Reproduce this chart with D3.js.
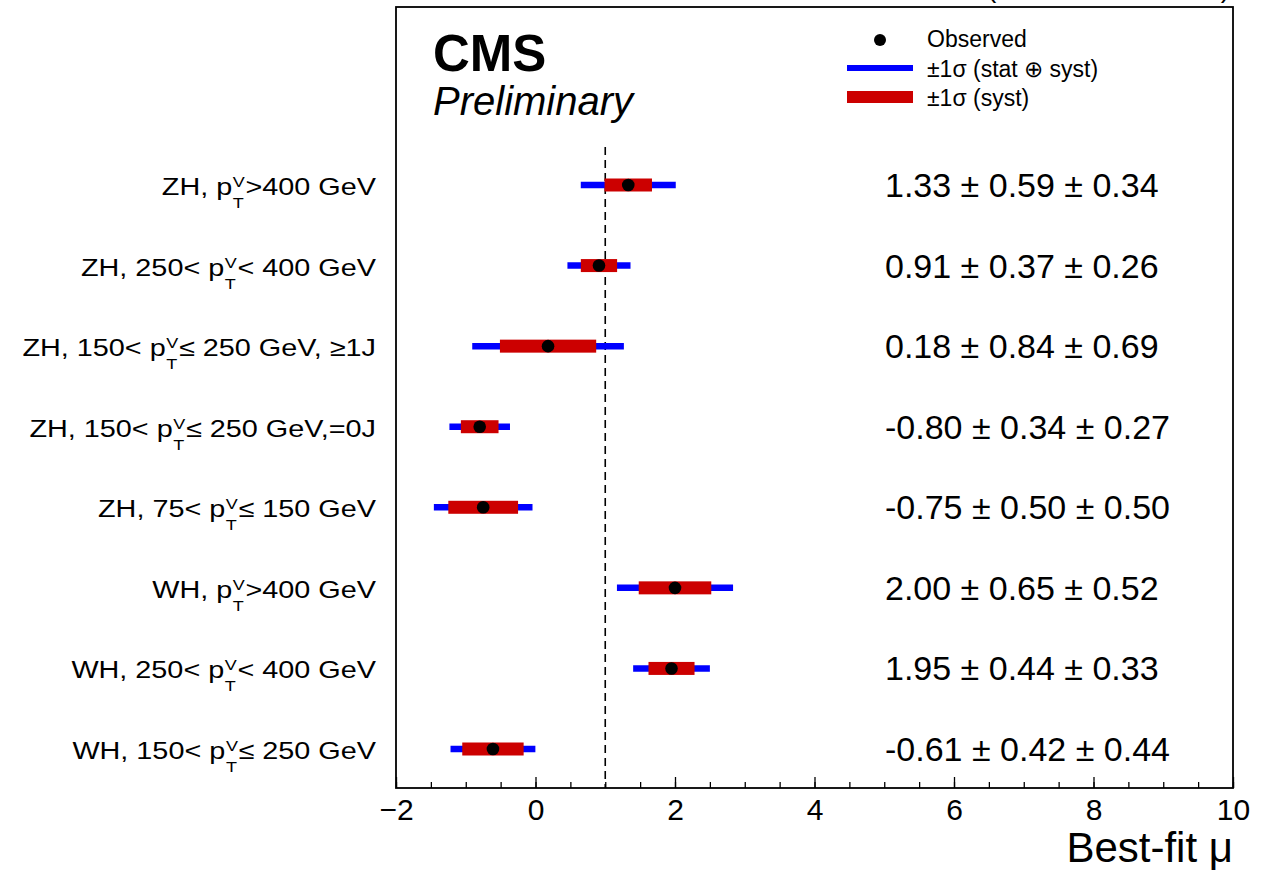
<!DOCTYPE html>
<html>
<head>
<meta charset="utf-8">
<script src="https://cdn.jsdelivr.net/npm/d3@7"></script>
<style>
  html, body { margin: 0; padding: 0; background: #fff; }
  svg text { font-family: "Liberation Sans", Arial, Helvetica, sans-serif; fill: #000; }
</style>
</head>
<body>
<svg id="chart" width="1261" height="872"></svg>
<script>
// Signal-strength categories (top to bottom)
const categories = [
  "ZH_400", "ZH_250_400", "ZH_150_250_1J", "ZH_150_250_0J",
  "ZH_75_150", "WH_400", "WH_250_400", "WH_150_250"
];
// label pieces: text before p_T^V, text after
const labelPrefix = ["ZH, p", "ZH, 250< p", "ZH, 150< p", "ZH, 150< p",
                     "ZH, 75< p", "WH, p", "WH, 250< p", "WH, 150< p"];
const labelSuffix = [">400 GeV", "< 400 GeV", "≤ 250 GeV, ≥1J", "≤ 250 GeV,=0J",
                     "≤ 150 GeV", ">400 GeV", "< 400 GeV", "≤ 250 GeV"];
// best-fit mu, statistical and systematic uncertainties
const muValues   = [1.33, 0.91, 0.18, -0.80, -0.75, 2.00, 1.95, -0.61];
const statValues = [0.59, 0.37, 0.84, 0.34, 0.50, 0.65, 0.44, 0.42];
const systValues = [0.34, 0.26, 0.69, 0.27, 0.50, 0.52, 0.33, 0.44];
const xTickValues = [-2, 0, 2, 4, 6, 8, 10];
const smReference = 1;

const rows = categories.map((c, i) => ({
  cat: c, mu: muValues[i], stat: statValues[i], syst: systValues[i],
  total: Math.sqrt(statValues[i] ** 2 + systValues[i] ** 2),
  pre: labelPrefix[i], suf: labelSuffix[i]
}));

const svg = d3.select("#chart");
const L = 396, R = 1233, T = 7, B = 788;

const x = d3.scaleLinear().domain([-2, 10]).range([L, R]);
const y = d3.scalePoint().domain(categories).range([185, 749]);

const BLUE = "#0000ff", RED = "#cc0000";

// SM reference line
svg.append("line")
  .attr("x1", x(smReference)).attr("x2", x(smReference))
  .attr("y1", 147).attr("y2", B)
  .attr("stroke", "#000").attr("stroke-width", 1.6)
  .attr("stroke-dasharray", "8,5");

// total uncertainty (stat ⊕ syst)
svg.append("g").selectAll("line").data(rows).join("line")
  .attr("x1", d => x(d.mu - d.total)).attr("x2", d => x(d.mu + d.total))
  .attr("y1", d => y(d.cat)).attr("y2", d => y(d.cat))
  .attr("stroke", BLUE).attr("stroke-width", 6.5);

// systematic uncertainty
svg.append("g").selectAll("rect").data(rows).join("rect")
  .attr("x", d => x(d.mu - d.syst))
  .attr("width", d => x(d.mu + d.syst) - x(d.mu - d.syst))
  .attr("y", d => y(d.cat) - 6.5).attr("height", 13)
  .attr("fill", RED);

// observed points
svg.append("g").selectAll("circle").data(rows).join("circle")
  .attr("cx", d => x(d.mu)).attr("cy", d => y(d.cat)).attr("r", 6.3)
  .attr("fill", "#000");

// value annotations
svg.append("g").selectAll("text").data(rows).join("text")
  .attr("x", 885).attr("y", d => y(d.cat) + 12)
  .attr("font-size", 34)
  .text(d => `${d.mu.toFixed(2)} ± ${d.stat.toFixed(2)} ± ${d.syst.toFixed(2)}`);

// category labels with stacked p_T^V scripts, right aligned at x = 376
const labelScaleX = 1.2;
rows.forEach(d => {
  const g = svg.append("g");
  const base = y(d.cat) + 10;
  const t1 = g.append("text").attr("x", 0).attr("y", base).attr("font-size", 24).text(d.pre);
  const w1 = t1.node().getComputedTextLength();
  const sup = g.append("text").attr("x", w1 + 0.5).attr("y", base - 8).attr("font-size", 15).text("V");
  const sub = g.append("text").attr("x", w1 + 0.5).attr("y", base + 13).attr("font-size", 15).text("T");
  const ws = Math.max(sup.node().getComputedTextLength(), sub.node().getComputedTextLength());
  const t2 = g.append("text").attr("x", w1 + ws + 1).attr("y", base).attr("font-size", 24).text(d.suf);
  const total = (w1 + ws + 1 + t2.node().getComputedTextLength()) * labelScaleX;
  g.attr("transform", `translate(${376 - total},0) scale(${labelScaleX},1)`);
});

// axis: minor and major ticks pointing inward
const minor = d3.axisBottom(x).tickValues(d3.range(-2, 10.001, 0.5)).tickSize(-6).tickFormat("");
const major = d3.axisBottom(x).tickValues(xTickValues).tickSize(-11).tickPadding(11);
const gMinor = svg.append("g").attr("transform", `translate(0,${B})`).call(minor);
const gMajor = svg.append("g").attr("transform", `translate(0,${B})`).call(major);
[gMinor, gMajor].forEach(g => {
  g.select(".domain").remove();
  g.selectAll(".tick line").attr("stroke", "#000").attr("stroke-width", 1.3);
});
gMajor.selectAll(".tick text").attr("font-size", 30).attr("fill", "#000")
  .attr("font-family", "Liberation Sans, Arial, Helvetica, sans-serif");

// frame
svg.append("rect").attr("x", L).attr("y", T).attr("width", R - L).attr("height", B - T)
  .attr("fill", "none").attr("stroke", "#000").attr("stroke-width", 1.8);

// axis title
svg.append("text").attr("x", R).attr("y", 862).attr("text-anchor", "end")
  .attr("font-size", 42).text("Best-fit μ");

// CMS label
svg.append("text").attr("x", 433).attr("y", 71).attr("font-size", 51)
  .attr("font-weight", "bold").text("CMS");
svg.append("text").attr("x", 433).attr("y", 115).attr("font-size", 40)
  .attr("font-style", "italic").text("Preliminary");

// luminosity label above the frame
svg.append("text").attr("x", 1230).attr("y", -3).attr("text-anchor", "end")
  .attr("font-size", 28).attr("textLength", 243).attr("lengthAdjust", "spacing")
  .text("(138 fb⁻¹ at 13 TeV)");

// legend
const lg = svg.append("g");
lg.append("circle").attr("cx", 880).attr("cy", 40).attr("r", 6).attr("fill", "#000");
lg.append("line").attr("x1", 847).attr("x2", 913).attr("y1", 68).attr("y2", 68)
  .attr("stroke", BLUE).attr("stroke-width", 6);
lg.append("line").attr("x1", 847).attr("x2", 913).attr("y1", 97).attr("y2", 97)
  .attr("stroke", RED).attr("stroke-width", 12);
const legendText = ["Observed", "±1σ (stat ⊕ syst)", "±1σ (syst)"];
lg.selectAll("text.lt").data(legendText).join("text").attr("class", "lt")
  .attr("x", 927).attr("y", (d, i) => 47 + i * 29.5)
  .attr("font-size", 23).text(d => d);
</script>
</body>
</html>
